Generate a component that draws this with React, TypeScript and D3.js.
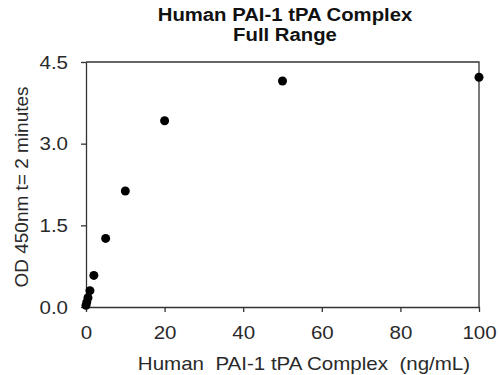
import { useEffect, useRef } from 'react';
import * as d3 from 'd3';

// Concentration (ng/mL) and OD 450nm readings
const concentrations = [0, 0.2, 0.5, 1, 2, 5, 10, 20, 50, 100];
const odValues = [0.03, 0.09, 0.17, 0.3, 0.58, 1.26, 2.13, 3.42, 4.15, 4.22];
const xTicks = [0, 20, 40, 60, 80, 100];
const yTicks = [0, 1.5, 3.0, 4.5];

const width = 498;
const height = 375;

export default function App() {
  const svgRef = useRef<SVGSVGElement>(null);

  useEffect(() => {
    if (!svgRef.current) return;
    const svg = d3.select(svgRef.current);
    svg.selectAll('*').remove();

    const margin = { top: 62, right: 19, bottom: 68, left: 86 };
    const w = width - margin.left - margin.right;
    const h = height - margin.top - margin.bottom;
    const font = 'Liberation Sans, Arial, sans-serif';
    const textColor = '#2a2a2a';

    // the reference text is a bit wider than plain Arial
    const stretch = (sel: d3.Selection<any, any, any, any>, k = 1.08) => {
      sel.each(function () {
        const t = this as SVGTextElement;
        const len = t.getComputedTextLength();
        t.setAttribute('textLength', String(len * k));
        t.setAttribute('lengthAdjust', 'spacingAndGlyphs');
      });
    };

    const g = svg.append('g').attr('transform', `translate(${margin.left},${margin.top})`);

    const x = d3.scaleLinear().domain([0, 100]).range([0, w]);
    const y = d3.scaleLinear().domain([0, 4.5]).range([h, 0]);

    // Frame (top and right)
    g.append('path')
      .attr('d', `M0,0H${w}V${h}`)
      .attr('fill', 'none')
      .attr('stroke', '#333')
      .attr('stroke-width', 1.3);

    const xAxis = g.append('g')
      .attr('transform', `translate(0,${h})`)
      .call(d3.axisBottom(x).tickValues(xTicks).tickSize(5).tickSizeOuter(0).tickPadding(14));
    const yAxis = g.append('g')
      .call(d3.axisLeft(y).tickValues(yTicks).tickFormat(d3.format('.1f')).tickSize(5).tickSizeOuter(0).tickPadding(13));

    [xAxis, yAxis].forEach(a => {
      a.selectAll('path, line').attr('stroke', '#333').attr('stroke-width', 1.3);
      const t = a.selectAll('text')
        .attr('fill', textColor)
        .style('font-family', font)
        .style('font-size', '19px');
      stretch(t);
    });

    // Points
    g.selectAll('.dot')
      .data(concentrations.map((c, i) => ({ c, v: odValues[i] })))
      .enter()
      .append('circle')
      .attr('class', 'dot')
      .attr('cx', d => x(d.c))
      .attr('cy', d => y(d.v))
      .attr('r', 4.5)
      .attr('fill', '#000');

    // Title, two lines
    ['Human PAI-1 tPA Complex', 'Full Range'].forEach((line, i) => {
      const t = svg.append('text')
        .attr('x', 285)
        .attr('y', 21 + i * 20)
        .attr('text-anchor', 'middle')
        .style('font-family', font)
        .style('font-size', '17.5px')
        .style('font-weight', 'bold')
        .attr('fill', '#111')
        .text(line);
      stretch(t, 1.16);
    });

    // Axis labels
    const xLabel = svg.append('text')
      .attr('x', 304)
      .attr('y', 370)
      .attr('text-anchor', 'middle')
      .style('font-family', font)
      .style('font-size', '19px')
      .style('white-space', 'pre')
      .attr('fill', textColor)
      .text('Human  PAI-1 tPA Complex  (ng/mL)');
    stretch(xLabel);

    svg.append('text')
      .attr('transform', `translate(28,187) rotate(-90)`)
      .attr('text-anchor', 'middle')
      .style('font-family', font)
      .style('font-size', '19px')
      .attr('fill', textColor)
      .text('OD 450nm t= 2 minutes');
  }, []);

  return <svg ref={svgRef} width={width} height={height} style={{ position: 'absolute', left: 0, top: 0 }} />;
}
